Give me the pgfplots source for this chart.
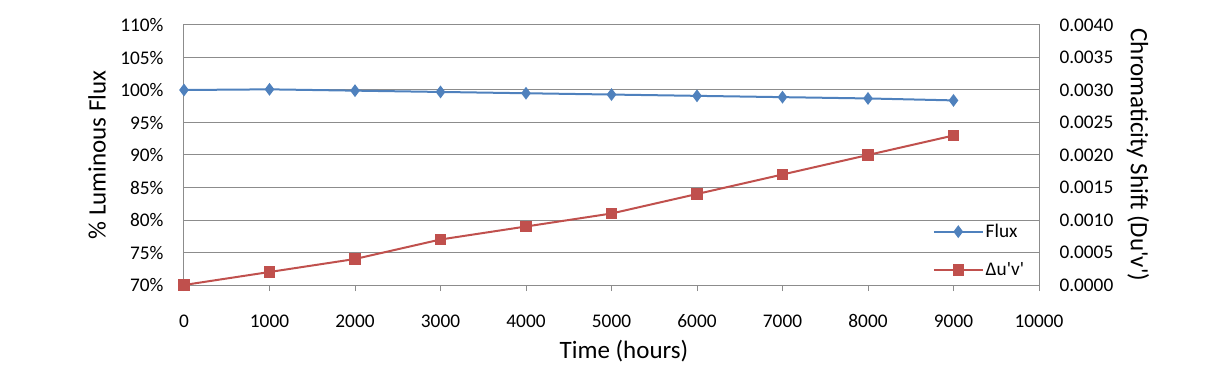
\documentclass[border=0pt]{standalone}
\usepackage{fontspec}
\setmainfont{Carlito}
\usepackage{pgfplots}
\pgfplotsset{compat=1.18}
\definecolor{fluxblue}{HTML}{4F81BD}
\definecolor{duvred}{HTML}{C0504D}
\definecolor{gridgray}{HTML}{8C8C8C}
\newcommand{\sq}{\textquotesingle}
\begin{document}
\begin{tikzpicture}
\useasboundingbox (-184bp,-96bp) rectangle (1042bp,285bp);
\pgfplotsset{
  every axis/.append style={
    scale only axis, width=855bp, height=260bp, at={(0,0)}, anchor=south west,
    xmin=0, xmax=10000,
    /pgf/number format/assume math mode=true,
    /pgf/number format/1000 sep={},
    scaled x ticks=false, scaled y ticks=false,
    tick label style={font=\fontsize{19.3bp}{22bp}\selectfont},
    label style={font=\fontsize{25bp}{28bp}\selectfont},
    axis line style={gridgray, line width=1bp},
  },
}
\begin{axis}[
  ymin=70, ymax=110, ytick={70,75,...,110},
  xtick={0,1000,...,10000},
  xtick pos=bottom, xtick align=outside,
  major tick length=6bp,
  ytick style={draw=none},
  xtick style={gridgray, line width=1bp},
  ymajorgrids, major grid style={gridgray, line width=1bp},
  yticklabel={\pgfmathprintnumber{\tick}\%},
  yticklabel style={anchor=east, xshift=-17bp},
  xticklabel style={yshift=-20bp},
  xlabel={Time (hours)},
  ylabel={\% Luminous Flux},
  xlabel style={at={(axis description cs:0.5146,-0.2538)}, anchor=center},
  ylabel style={at={(axis description cs:-0.1018,0.5)}, anchor=center},
  legend style={draw=none, fill=none, at={(axis description cs:0.872,0.25)}, anchor=north west,
    font=\fontsize{19.3bp}{22bp}\selectfont, row sep=19.5bp,
    /tikz/every even column/.append style={column sep=8bp}},
  legend image code/.code={\draw[mark repeat=2,mark phase=2] plot coordinates {(0bp,0bp) (24.5bp,0bp) (49bp,0bp)};},
  legend cell align=left,
]
\addplot[color=fluxblue, line width=2bp, mark=diamond*, mark size=4.8bp, mark options={solid}]
  coordinates {(0,100) (1000,100.1) (2000,99.9) (3000,99.7) (4000,99.5) (5000,99.3) (6000,99.1) (7000,98.9) (8000,98.7) (9000,98.4)};
\addlegendentry{Flux}
\addlegendimage{color=duvred, line width=2bp, mark=square*, mark size=4.7bp}
\addlegendentry{Δu\sq v\sq}
\end{axis}
\begin{axis}[
  ymin=0, ymax=0.004, ytick={0,0.0005,...,0.004},
  axis y line*=right, axis x line=none,
  ytick style={draw=none},
  yticklabel style={anchor=west, xshift=17bp, /pgf/number format/.cd, fixed, fixed zerofill, precision=4},
  ylabel={Chromaticity Shift (Du\sq v\sq)},
  ylabel style={at={(axis description cs:1.1158,0.5)}, anchor=center, rotate=-180},
]
\addplot[color=duvred, line width=2bp, mark=square*, mark size=4.7bp, mark options={solid}]
  coordinates {(0,0) (1000,0.0002) (2000,0.0004) (3000,0.0007) (4000,0.0009) (5000,0.0011) (6000,0.0014) (7000,0.0017) (8000,0.0020) (9000,0.0023)};
\end{axis}
\end{tikzpicture}
\end{document}
